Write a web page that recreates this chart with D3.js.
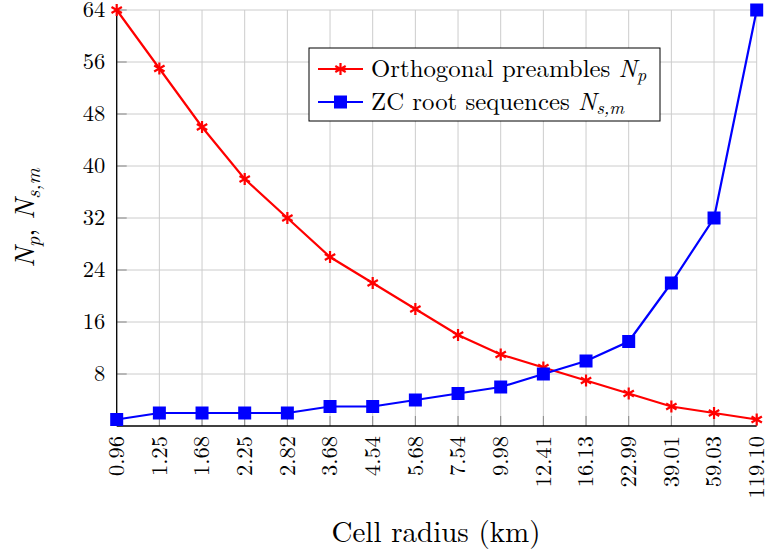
<!DOCTYPE html>
<html><head><meta charset="utf-8">
<script src="https://cdn.jsdelivr.net/npm/d3@7"></script>
<style>body{margin:0;background:#fff}svg{display:block}</style>
</head><body><svg id="c" width="766" height="556"></svg>
<script>
const categories = ["0.96","1.25","1.68","2.25","2.82","3.68","4.54","5.68","7.54","9.98","12.41","16.13","22.99","39.01","59.03","119.10"];
const orthogonal = [64,55,46,38,32,26,22,18,14,11,9,7,5,3,2,1];
const zcRoots = [1,2,2,2,2,3,3,4,5,6,8,10,13,22,32,64];
const yTicks = [8,16,24,32,40,48,56,64];

const FONT = "'Latin Modern Roman', 'Liberation Serif', serif";
const svg = d3.select("#c");
const L = 116.7, R = 756.7, T = 10, B = 426;
const x = d3.scalePoint().domain(categories).range([L, R]);
const y = d3.scaleLinear().domain([0, 64]).range([B, T]);

// grid
const g = svg.append("g");
g.selectAll("line.vg").data(categories).join("line")
  .attr("x1", d => x(d)).attr("x2", d => x(d)).attr("y1", T).attr("y2", B)
  .attr("stroke", "#cccccc").attr("stroke-width", 1);
g.selectAll("line.hg").data(yTicks).join("line")
  .attr("x1", L).attr("x2", R).attr("y1", d => y(d)).attr("y2", d => y(d))
  .attr("stroke", "#cccccc").attr("stroke-width", 1);
// tick marks (inward)
g.selectAll("line.xt").data(categories).join("line")
  .attr("x1", d => x(d)).attr("x2", d => x(d)).attr("y1", B).attr("y2", B - 10)
  .attr("stroke", "#888").attr("stroke-width", 1);
g.selectAll("line.yt").data(yTicks).join("line")
  .attr("x1", L).attr("x2", L + 10).attr("y1", d => y(d)).attr("y2", d => y(d))
  .attr("stroke", "#888").attr("stroke-width", 1);
// axes lines
svg.append("line").attr("x1", L).attr("x2", L).attr("y1", T).attr("y2", B).attr("stroke", "#000").attr("stroke-width", 1.3);
svg.append("line").attr("x1", L).attr("x2", R).attr("y1", B).attr("y2", B).attr("stroke", "#000").attr("stroke-width", 1.3);

// tick labels
svg.selectAll("text.yl").data(yTicks).join("text")
  .style("font-family", FONT)
  .attr("x", L - 11.5).attr("y", d => y(d)).attr("dy", "0.33em")
  .attr("text-anchor", "end").attr("font-size", 22.5).text(d => d);
svg.selectAll("text.xl").data(categories).join("text")
  .style("font-family", FONT)
  .attr("transform", d => `translate(${x(d)},${B + 10}) rotate(-90)`)
  .attr("dy", "0.33em").attr("text-anchor", "end").attr("font-size", 22.5).text(d => d);

// axis titles
svg.append("text").style("font-family", FONT).attr("x", 436).attr("y", 542).attr("text-anchor", "middle")
  .attr("font-size", 29).text("Cell radius (km)");
const yl = svg.append("text").style("font-family", FONT).attr("transform", `translate(34,${(T + B) / 2}) rotate(-90)`)
  .attr("text-anchor", "middle").attr("font-size", 28);
yl.append("tspan").attr("font-style", "italic").text("N");
yl.append("tspan").attr("font-style", "italic").attr("font-size", 20).attr("dy", 6).text("p");
yl.append("tspan").attr("dy", -6).text(", ");
yl.append("tspan").attr("font-style", "italic").text("N");
yl.append("tspan").attr("font-style", "italic").attr("font-size", 20).attr("dy", 6).text("s,m");

// series
const line = d3.line().x((d, i) => x(categories[i])).y(d => y(d));
svg.append("path").datum(orthogonal).attr("d", line).attr("fill", "none").attr("stroke", "#ff0000").attr("stroke-width", 2.2);
svg.append("path").datum(zcRoots).attr("d", line).attr("fill", "none").attr("stroke", "#0000ff").attr("stroke-width", 2.2);

function asterisk(sel, cx, cy, r) {
  [90, 30, 150].forEach(a => {
    const rad = a * Math.PI / 180;
    sel.append("line").attr("x1", cx - r * Math.cos(rad)).attr("y1", cy - r * Math.sin(rad))
      .attr("x2", cx + r * Math.cos(rad)).attr("y2", cy + r * Math.sin(rad))
      .attr("stroke", "#ff0000").attr("stroke-width", 2.2);
  });
}
const mk = svg.append("g");
orthogonal.forEach((v, i) => asterisk(mk, x(categories[i]), y(v), 6));
svg.selectAll("rect.sq").data(zcRoots).join("rect")
  .attr("x", (d, i) => x(categories[i]) - 6.5).attr("y", d => y(d) - 6.5)
  .attr("width", 13).attr("height", 13).attr("fill", "#0000ff");

// legend
const lg = svg.append("g");
lg.append("rect").attr("x", 309).attr("y", 48).attr("width", 351).attr("height", 73)
  .attr("fill", "#fff").attr("stroke", "#000").attr("stroke-width", 1);
lg.append("line").attr("x1", 318).attr("x2", 363).attr("y1", 69).attr("y2", 69).attr("stroke", "#ff0000").attr("stroke-width", 2.2);
asterisk(lg, 340.5, 69, 6);
lg.append("line").attr("x1", 318).attr("x2", 363).attr("y1", 102).attr("y2", 102).attr("stroke", "#0000ff").attr("stroke-width", 2.2);
lg.append("rect").attr("x", 334).attr("y", 95.5).attr("width", 13).attr("height", 13).attr("fill", "#0000ff");
const t1 = lg.append("text").style("font-family", FONT).attr("x", 371).attr("y", 69).attr("dy", "0.33em").attr("font-size", 24.8);
t1.append("tspan").text("Orthogonal preambles ");
t1.append("tspan").attr("font-style", "italic").text("N");
t1.append("tspan").attr("font-style", "italic").attr("font-size", 18).attr("dy", 4).text("p");
const t2 = lg.append("text").style("font-family", FONT).attr("x", 371).attr("y", 102).attr("dy", "0.33em").attr("font-size", 24.8);
t2.append("tspan").text("ZC root sequences ");
t2.append("tspan").attr("font-style", "italic").text("N");
t2.append("tspan").attr("font-style", "italic").attr("font-size", 18).attr("dy", 4).text("s,m");
</script></body></html>
